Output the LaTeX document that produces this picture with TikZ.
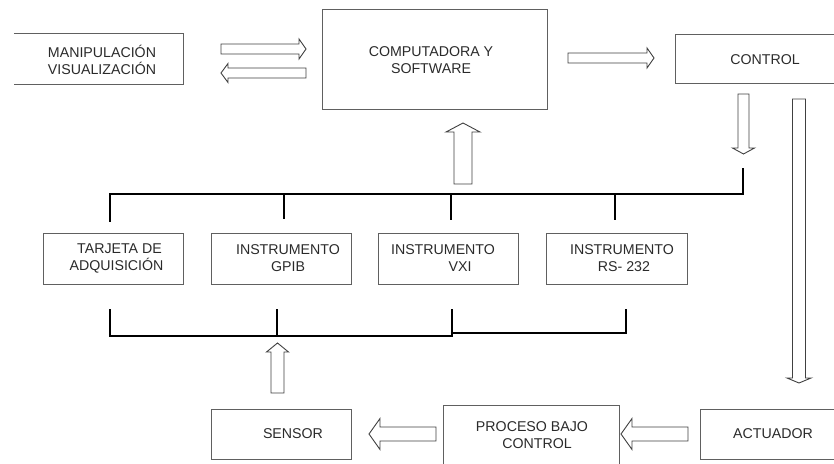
\documentclass[tikz,border=0pt]{standalone}
\usepackage{fontspec}
\setmainfont{Liberation Sans}
\usetikzlibrary{calc}
\definecolor{boxgray}{HTML}{606060}
\definecolor{arrgray}{HTML}{404040}
\definecolor{txtgray}{HTML}{2A2A2A}
% block arrow: tail x,y ; tip x,y ; shaft half width ; head half width ; head length
\newcommand\blockarr[7]{%
  \pgfmathsetmacro\bdx{#3-#1}%
  \pgfmathsetmacro\bdy{#4-#2}%
  \pgfmathsetmacro\blen{veclen(\bdx,\bdy)}%
  \pgfmathsetmacro\bux{\bdx/\blen}%
  \pgfmathsetmacro\buy{\bdy/\blen}%
  \pgfmathsetmacro\bbx{#3-#7*\bux}%
  \pgfmathsetmacro\bby{#4-#7*\buy}%
  \draw[blockarrow] ({#1-#5*\buy},{#2+#5*\bux}) -- ({\bbx-#5*\buy},{\bby+#5*\bux})
    -- ({\bbx-#6*\buy},{\bby+#6*\bux}) -- (#3,#4) -- ({\bbx+#6*\buy},{\bby-#6*\bux})
    -- ({\bbx+#5*\buy},{\bby-#5*\bux}) -- ({#1+#5*\buy},{#2-#5*\bux}) -- cycle;}
\begin{document}
\begin{tikzpicture}[x=1pt,y=-1pt,
  box/.style={draw=boxgray, line width=0.9pt, rectangle, inner sep=0pt},
  hidbox/.style={rectangle, inner sep=0pt},
  lbl/.style={text=txtgray, align=center, inner sep=0pt,
    font=\fontsize{14.2}{17}\selectfont},
  blockarrow/.style={draw=arrgray, line width=0.9pt, fill=white, line join=miter},
  bus/.style={draw=black, line width=2pt}]
\useasboundingbox (0,0) rectangle (834,463);
\clip (0,0) rectangle (834,463);

% boxes
\node[hidbox, minimum width=169pt, minimum height=50pt] (manip) at (98.5,59) {};
\draw[boxgray, line width=0.9pt] (manip.north west) -- (manip.north east) -- (manip.south east) -- (manip.south west);
\node[box, minimum width=225pt, minimum height=100pt] (comp) at (434.5,59) {};
\node[box, minimum width=170pt, minimum height=49pt] (control) at (760,58.5) {};
\node[box, minimum width=140pt, minimum height=51pt] (tarjeta) at (113,258.5) {};
\node[box, minimum width=140pt, minimum height=51pt] (gpib) at (281,258.5) {};
\node[box, minimum width=140pt, minimum height=51pt] (vxi) at (448,258.5) {};
\node[box, minimum width=141pt, minimum height=51pt] (rs) at (616.5,258.5) {};
\node[box, minimum width=140pt, minimum height=50pt] (sensor) at (281,434) {};
\node[box, minimum width=176pt, minimum height=75pt] (proceso) at (531,442.5) {};
\node[box, minimum width=160pt, minimum height=50pt] (actuador) at (780,434) {};

% texts
\node[lbl] (manipT) at (102,59.5) {MANIPULACIÓN\\VISUALIZACIÓN};
\node[lbl] (compT) at (431,60) {COMPUTADORA Y\\SOFTWARE};
\node[lbl] (controlT) at (765,60) {CONTROL};
\node[lbl] (tarjetaT) at (116.5,258.5) {\hspace*{6pt}TARJETA DE\\ADQUISICIÓN};
\node[lbl] (gpibT) at (288,258.5) {INSTRUMENTO\\GPIB};
\node[lbl] (vxiT) at (443,258.5) {INSTRUMENTO\\\hspace*{34pt}VXI};
\node[lbl] (rsT) at (622,258.5) {INSTRUMENTO\\\hspace*{4pt}RS- 232};
\node[lbl] (sensorT) at (293,434) {SENSOR};
\node[lbl] (procesoT) at (532,435.5) {PROCESO BAJO\\\hspace*{10pt}CONTROL};
\node[lbl] (actuadorT) at (773,434) {ACTUADOR};

% upper bus
\coordinate (ub1) at (110,194);
\coordinate (ub2) at (284,194);
\coordinate (ub3) at (451,194);
\coordinate (ub4) at (615,194);
\coordinate (ub5) at (743,194);
\coordinate (ubTop) at (743,168);
\draw[bus] (ub1 |- tarjeta.north) ++(0,-11) -- (ub1) -- (ub5) -- (ubTop);
\draw[bus] (ub2) -- ($(ub2 |- gpib.north)+(0,-14)$);
\draw[bus] (ub3) -- ($(ub3 |- vxi.north)+(0,-13)$);
\draw[bus] (ub4) -- ($(ub4 |- rs.north)+(0,-13)$);

% lower bus
\coordinate (lb1) at (110,336);
\coordinate (lb2) at (277,336);
\coordinate (lb3) at (452,336);
\coordinate (lb3b) at (452,333);
\coordinate (lb4) at (626,333);
\draw[bus] ($(lb1 |- tarjeta.south)+(0,25)$) -- (lb1) -- (lb3) -- ($(lb3 |- vxi.south)+(0,25)$);
\draw[bus] (lb3b) -- (lb4) -- ($(lb4 |- rs.south)+(0,25)$);
\draw[bus] (lb2) -- ($(lb2 |- gpib.south)+(0,25)$);

% block arrows
\blockarr{221}{49}{306}{49}{5}{10}{7}
\blockarr{306}{73}{221}{73}{5}{9.5}{7}
\blockarr{568}{58}{654}{58}{5}{10}{7}
\blockarr{743.5}{94}{743.5}{154}{5.5}{11}{6}
\blockarr{463}{184}{463}{123}{9}{17}{9}
\blockarr{799}{99}{799}{383}{6.5}{12}{5}
\blockarr{277.5}{393}{277.5}{343}{6.5}{11}{9}
\blockarr{436}{434}{369}{434}{7}{15.5}{11}
\blockarr{688}{434}{621}{434}{7}{15.5}{11}
\end{tikzpicture}
\end{document}
